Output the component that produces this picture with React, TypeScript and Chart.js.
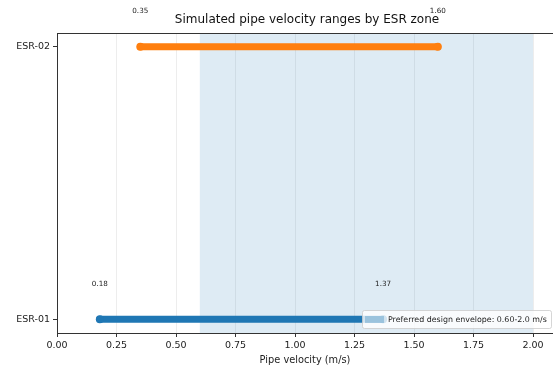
import React, { useEffect, useRef } from "react";
import { Chart, registerables } from "chart.js";

Chart.register(...registerables);

const zones = ["ESR-01", "ESR-02"];
const minVel = [0.18, 0.35];
const maxVel = [1.37, 1.6];
const colors = ["#1f77b4", "#ff7f0e"];
const envelope = [0.6, 2.0];
const envelopeLabel = "Preferred design envelope: 0.60-2.0 m/s";
const titleText = "Simulated pipe velocity ranges by ESR zone";
const xLabel = "Pipe velocity (m/s)";
const FONT = "'DejaVu Sans', sans-serif";

const overlay = {
  id: "overlay",
  beforeDatasetsDraw(chart: any) {
    const { ctx, chartArea, scales } = chart;
    const x = scales.x;
    ctx.save();
    ctx.fillStyle = "rgba(31,119,180,0.15)";
    const x0 = x.getPixelForValue(envelope[0]);
    const x1 = x.getPixelForValue(envelope[1]);
    ctx.fillRect(x0, chartArea.top, x1 - x0, chartArea.bottom - chartArea.top);
    ctx.restore();
  },
  afterDatasetsDraw(chart: any) {
    const { ctx, chartArea, scales } = chart;
    const x = scales.x;
    const y = scales.y;
    ctx.save();
    // top spine
    ctx.strokeStyle = "#333";
    ctx.lineWidth = 1;
    ctx.beginPath();
    ctx.moveTo(chartArea.left, chartArea.top + 0.5);
    ctx.lineTo(chartArea.right + 10, chartArea.top + 0.5);
    ctx.stroke();
    // value annotations
    ctx.fillStyle = "#222";
    ctx.font = `7.2px ${FONT}`;
    ctx.textAlign = "center";
    ctx.textBaseline = "middle";
    zones.forEach((_, i) => {
      const ly = y.getPixelForValue(i + 0.13);
      ctx.fillText(minVel[i].toFixed(2), x.getPixelForValue(minVel[i]), ly);
      ctx.fillText(maxVel[i].toFixed(2), x.getPixelForValue(maxVel[i]), ly);
    });
    // legend
    const lx = 362, ly = 310, lw = 189, lh = 18;
    ctx.fillStyle = "rgba(255,255,255,0.8)";
    ctx.strokeStyle = "rgba(204,204,204,0.8)";
    ctx.beginPath();
    (ctx as any).roundRect(lx + 0.5, ly + 0.5, lw, lh, 2);
    ctx.fill();
    ctx.stroke();
    ctx.fillStyle = "rgba(31,119,180,0.3)";
    ctx.fillRect(lx + 3, ly + 6, 19, 7);
    ctx.fillStyle = "#222";
    ctx.font = `7.9px ${FONT}`;
    ctx.textAlign = "left";
    ctx.fillText(envelopeLabel, lx + 26, ly + 10);
    // title
    ctx.font = `12px ${FONT}`;
    ctx.textAlign = "center";
    ctx.fillStyle = "#111";
    ctx.fillText(titleText, 307, 20);
    ctx.restore();
  },
};

export default function App() {
  const ref = useRef<HTMLCanvasElement>(null);
  useEffect(() => {
    document.body.style.margin = "0";
    const datasets = zones.map((z, i) => ({
      label: z,
      data: [
        { x: minVel[i], y: i },
        { x: maxVel[i], y: i },
      ],
      borderColor: colors[i],
      backgroundColor: colors[i],
      borderWidth: 7,
      borderCapStyle: "round" as const,
      pointRadius: 4,
      pointBorderWidth: 0,
      showLine: true,
    }));
    const chart = new Chart(ref.current!, {
      type: "scatter",
      data: { datasets },
      options: {
        animation: false,
        responsive: false,
        layout: { padding: { top: 33, right: 0, left: 0, bottom: 5 } },
        plugins: {
          legend: { display: false },
          tooltip: { enabled: false },
          title: { display: false },
        },
        scales: {
          x: {
            type: "linear",
            min: 0,
            max: 2.084,
            border: { display: true, color: "#333", width: 1 },
            grid: {
              color: "rgba(0,0,0,0.07)",
              tickColor: "#333",
              tickLength: 4,
            },
            ticks: {
              stepSize: 0.25,
              includeBounds: false,
              autoSkip: false,
              maxRotation: 0,
              color: "#222",
              padding: 3,
              font: { family: FONT, size: 9.5 },
              callback: (v: any) => Number(v).toFixed(2),
            },
            title: {
              display: true,
              text: xLabel,
              color: "#222",
              font: { family: FONT, size: 9.8 },
              padding: { top: 2, bottom: 0 },
            },
            afterFit: (s: any) => {
              s.height = 33;
            },
          },
          y: {
            type: "linear",
            min: -0.05,
            max: 1.05,
            border: { display: true, color: "#333", width: 1 },
            grid: {
              drawOnChartArea: false,
              tickColor: "#333",
              tickLength: 4,
            },
            afterBuildTicks: (s: any) => {
              s.ticks = zones.map((_, i) => ({ value: i }));
            },
            ticks: {
              color: "#222",
              padding: 3,
              font: { family: FONT, size: 9.5 },
              callback: (v: any) => zones[Math.round(Number(v))] ?? "",
            },
            afterFit: (s: any) => {
              s.width = 57;
            },
          },
        },
      },
      plugins: [overlay],
    });
    return () => chart.destroy();
  }, []);
  return (
    <div style={{ position: "absolute", left: 0, top: 0, width: 553, height: 371, overflow: "hidden" }}>
      <canvas ref={ref} width={557} height={371} style={{ width: 557, height: 371, display: "block" }} />
    </div>
  );
}
